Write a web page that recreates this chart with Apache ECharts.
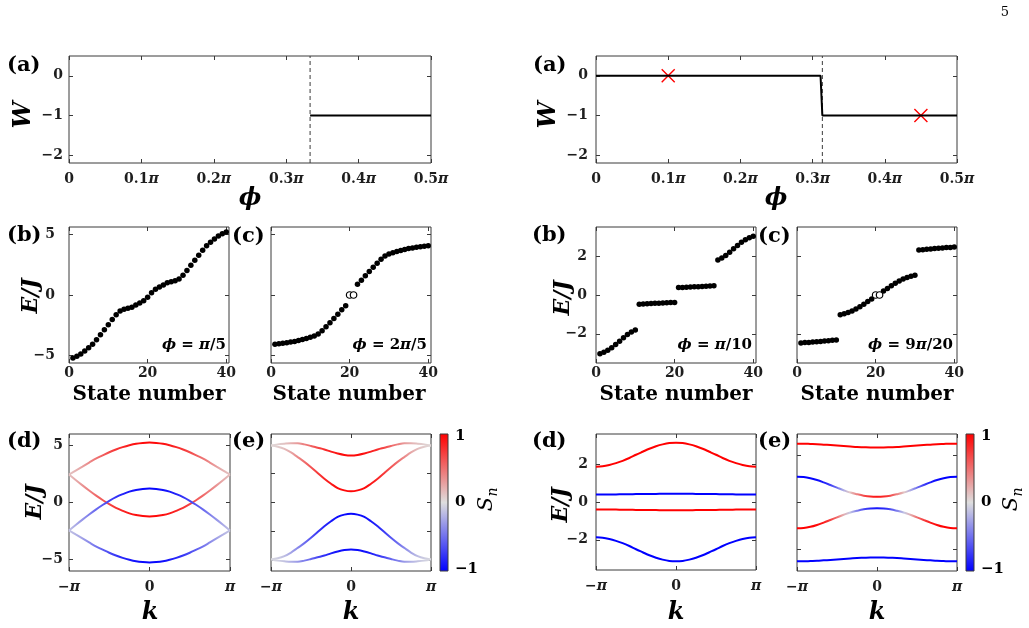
<!DOCTYPE html>
<html>
<head>
<meta charset="utf-8">
<script src="https://cdn.jsdelivr.net/npm/echarts@6/dist/echarts.min.js"></script>
<style>
  html, body { margin: 0; background: #fff; }
  #c { width: 1029px; height: 628px; }
</style>
</head>
<body>
<div id="c"></div>
<script>
// ===== datos =====
const PHI_TICKS = [0, 0.1, 0.2, 0.3, 0.4, 0.5];
const W_TICKS = [-2, -1, 0];
const N_TICKS = [0, 20, 40];
const K_TICKS = [-1, 0, 1];

// (a) número de enrollamiento W(φ), φ en unidades de π
const wLeftPhi = [0.333, 0.5];
const wLeftVal = [-1, -1];
const dashLeft = 0.333;
const wRightPhi = [0, 0.311, 0.3135, 0.5];
const wRightVal = [0, 0, -1, -1];
const dashRight = 0.3135;
const crossPhi = [0.1, 0.45];
const crossW = [0, -1];

// (b),(c) espectros de 40 estados
const STATES = [1,2,3,4,5,6,7,8,9,10,11,12,13,14,15,16,17,18,19,20,21,22,23,24,25,26,27,28,29,30,31,32,33,34,35,36,37,38,39,40];
const OPEN_STATES = [20, 21];
const eB_L = [-5.18,-5.05,-4.85,-4.62,-4.35,-4.05,-3.68,-3.28,-2.87,-2.45,-2.02,-1.62,-1.32,-1.18,-1.10,-1.00,-0.82,-0.66,-0.48,-0.18,
              0.18,0.48,0.66,0.82,1.00,1.10,1.18,1.32,1.62,2.02,2.45,2.87,3.28,3.68,4.05,4.35,4.62,4.85,5.05,5.18];
const eC_L = [-4.05,-4.02,-3.98,-3.93,-3.88,-3.82,-3.75,-3.67,-3.58,-3.48,-3.37,-3.22,-2.95,-2.62,-2.28,-1.93,-1.58,-1.22,-0.88,0.00,
              0.00,0.88,1.22,1.58,1.93,2.28,2.62,2.95,3.22,3.37,3.48,3.58,3.67,3.75,3.82,3.88,3.93,3.98,4.02,4.05];
const eB_R = [-3.02,-2.95,-2.85,-2.72,-2.55,-2.38,-2.20,-2.03,-1.90,-1.80,-0.47,-0.46,-0.45,-0.44,-0.43,-0.42,-0.41,-0.40,-0.39,-0.38,
              0.38,0.39,0.40,0.41,0.42,0.43,0.44,0.45,0.46,0.47,1.80,1.90,2.03,2.20,2.38,2.55,2.72,2.85,2.95,3.02];
const eC_R = [-2.47,-2.45,-2.44,-2.42,-2.41,-2.39,-2.37,-2.35,-2.33,-2.31,-1.02,-0.97,-0.90,-0.82,-0.72,-0.60,-0.47,-0.34,-0.20,0.00,
              0.00,0.20,0.34,0.47,0.60,0.72,0.82,0.90,0.97,1.02,2.31,2.33,2.35,2.37,2.39,2.41,2.42,2.44,2.45,2.47];

// (d),(e) bandas E(k), k en unidades de π, con su polarización S_n
const K = [-1,-0.917,-0.833,-0.75,-0.667,-0.583,-0.5,-0.417,-0.333,-0.25,-0.167,-0.083,0,
           0.083,0.167,0.25,0.333,0.417,0.5,0.583,0.667,0.75,0.833,0.917,1];
const dL1 = [2.45,2.80,3.15,3.50,3.85,4.13,4.40,4.64,4.85,5.02,5.15,5.22,5.25,5.22,5.15,5.02,4.85,4.64,4.40,4.13,3.85,3.50,3.15,2.80,2.45];
const dL2 = [2.45,1.97,1.50,1.05,0.62,0.22,-0.15,-0.47,-0.73,-0.95,-1.10,-1.19,-1.22,-1.19,-1.10,-0.95,-0.73,-0.47,-0.15,0.22,0.62,1.05,1.50,1.97,2.45];
const dL3 = [-2.45,-1.97,-1.50,-1.05,-0.62,-0.22,0.15,0.47,0.73,0.95,1.10,1.19,1.22,1.19,1.10,0.95,0.73,0.47,0.15,-0.22,-0.62,-1.05,-1.50,-1.97,-2.45];
const dL4 = [-2.45,-2.80,-3.15,-3.50,-3.85,-4.13,-4.40,-4.64,-4.85,-5.02,-5.15,-5.22,-5.25,-5.22,-5.15,-5.02,-4.85,-4.64,-4.40,-4.13,-3.85,-3.50,-3.15,-2.80,-2.45];
const sdL1 = [0.10,0.17,0.25,0.35,0.45,0.55,0.65,0.74,0.82,0.88,0.93,0.96,0.97,0.96,0.93,0.88,0.82,0.74,0.65,0.55,0.45,0.35,0.25,0.17,0.10];
const sdL2 = [0.10,0.20,0.30,0.40,0.50,0.59,0.68,0.76,0.83,0.89,0.93,0.96,0.97,0.96,0.93,0.89,0.83,0.76,0.68,0.59,0.50,0.40,0.30,0.20,0.10];
const sdL3 = [-0.10,-0.20,-0.30,-0.40,-0.50,-0.59,-0.68,-0.76,-0.83,-0.89,-0.93,-0.96,-0.97,-0.96,-0.93,-0.89,-0.83,-0.76,-0.68,-0.59,-0.50,-0.40,-0.30,-0.20,-0.10];
const sdL4 = [-0.10,-0.17,-0.25,-0.35,-0.45,-0.55,-0.65,-0.74,-0.82,-0.88,-0.93,-0.96,-0.97,-0.96,-0.93,-0.88,-0.82,-0.74,-0.65,-0.55,-0.45,-0.35,-0.25,-0.17,-0.10];

const eL1 = [3.95,4.03,4.08,4.11,4.11,4.03,3.92,3.80,3.68,3.53,3.40,3.30,3.26,3.30,3.40,3.53,3.68,3.80,3.92,4.03,4.11,4.11,4.08,4.03,3.95];
const eL2 = [3.95,3.87,3.72,3.47,3.15,2.82,2.45,2.05,1.65,1.30,1.00,0.84,0.78,0.84,1.00,1.30,1.65,2.05,2.45,2.82,3.15,3.47,3.72,3.87,3.95];
const eL3 = [-3.95,-3.87,-3.72,-3.47,-3.15,-2.82,-2.45,-2.05,-1.65,-1.30,-1.00,-0.84,-0.78,-0.84,-1.00,-1.30,-1.65,-2.05,-2.45,-2.82,-3.15,-3.47,-3.72,-3.87,-3.95];
const eL4 = [-3.95,-4.03,-4.08,-4.11,-4.11,-4.03,-3.92,-3.80,-3.68,-3.53,-3.40,-3.30,-3.26,-3.30,-3.40,-3.53,-3.68,-3.80,-3.92,-4.03,-4.11,-4.11,-4.08,-4.03,-3.95];
const seL1 = [0.02,0.05,0.10,0.18,0.28,0.40,0.52,0.65,0.78,0.86,0.92,0.95,0.96,0.95,0.92,0.86,0.78,0.65,0.52,0.40,0.28,0.18,0.10,0.05,0.02];
const seL2 = [0.02,0.06,0.12,0.22,0.35,0.48,0.60,0.72,0.82,0.89,0.94,0.96,0.97,0.96,0.94,0.89,0.82,0.72,0.60,0.48,0.35,0.22,0.12,0.06,0.02];
const seL3 = [-0.02,-0.06,-0.12,-0.22,-0.35,-0.48,-0.60,-0.72,-0.82,-0.89,-0.94,-0.96,-0.97,-0.96,-0.94,-0.89,-0.82,-0.72,-0.60,-0.48,-0.35,-0.22,-0.12,-0.06,-0.02];
const seL4 = [-0.02,-0.05,-0.10,-0.18,-0.28,-0.40,-0.52,-0.65,-0.78,-0.86,-0.92,-0.95,-0.96,-0.95,-0.92,-0.86,-0.78,-0.65,-0.52,-0.40,-0.28,-0.18,-0.10,-0.05,-0.02];

const dR1 = [1.87,1.89,1.96,2.06,2.18,2.33,2.50,2.66,2.82,2.95,3.05,3.12,3.14,3.12,3.05,2.95,2.82,2.66,2.50,2.33,2.18,2.06,1.96,1.89,1.87];
const dR2 = [0.40,0.40,0.40,0.40,0.41,0.41,0.42,0.42,0.43,0.43,0.44,0.44,0.44,0.44,0.44,0.43,0.43,0.42,0.42,0.41,0.41,0.40,0.40,0.40,0.40];
const dR3 = [-0.40,-0.40,-0.40,-0.40,-0.41,-0.41,-0.42,-0.42,-0.43,-0.43,-0.44,-0.44,-0.44,-0.44,-0.44,-0.43,-0.43,-0.42,-0.42,-0.41,-0.41,-0.40,-0.40,-0.40,-0.40];
const dR4 = [-1.87,-1.89,-1.96,-2.06,-2.18,-2.33,-2.50,-2.66,-2.82,-2.95,-3.05,-3.12,-3.14,-3.12,-3.05,-2.95,-2.82,-2.66,-2.50,-2.33,-2.18,-2.06,-1.96,-1.89,-1.87];
const S_UP = [1,1,1,1,1,1,1,1,1,1,1,1,1,1,1,1,1,1,1,1,1,1,1,1,1];
const S_DN = [-1,-1,-1,-1,-1,-1,-1,-1,-1,-1,-1,-1,-1,-1,-1,-1,-1,-1,-1,-1,-1,-1,-1,-1,-1];

const eR1 = [2.49,2.49,2.48,2.47,2.45,2.43,2.41,2.39,2.37,2.35,2.34,2.33,2.33,2.33,2.34,2.35,2.37,2.39,2.41,2.43,2.45,2.47,2.48,2.49,2.49];
const eR2 = [1.09,1.08,1.03,0.95,0.85,0.74,0.63,0.52,0.42,0.35,0.29,0.25,0.24,0.25,0.29,0.35,0.42,0.52,0.63,0.74,0.85,0.95,1.03,1.08,1.09];
const eR3 = [-1.09,-1.08,-1.03,-0.95,-0.85,-0.74,-0.63,-0.52,-0.42,-0.35,-0.29,-0.25,-0.24,-0.25,-0.29,-0.35,-0.42,-0.52,-0.63,-0.74,-0.85,-0.95,-1.03,-1.08,-1.09];
const eR4 = [-2.49,-2.49,-2.48,-2.47,-2.45,-2.43,-2.41,-2.39,-2.37,-2.35,-2.34,-2.33,-2.33,-2.33,-2.34,-2.35,-2.37,-2.39,-2.41,-2.43,-2.45,-2.47,-2.48,-2.49,-2.49];
const seR2 = [-1,-1,-1,-0.97,-0.90,-0.75,-0.55,-0.25,0.10,0.40,0.65,0.82,0.90,0.82,0.65,0.40,0.10,-0.25,-0.55,-0.75,-0.90,-0.97,-1,-1,-1];
const seR3 = [1,1,1,0.97,0.90,0.75,0.55,0.25,-0.10,-0.40,-0.65,-0.82,-0.90,-0.82,-0.65,-0.40,-0.10,0.25,0.55,0.75,0.90,0.97,1,1,1];

// ===== estilo =====
const FONT = 'DejaVu Serif';
const INK = '#1e1e1e';
const BOX = '#3a3a3a';
const MID = [222, 222, 222];

function cmap(s) {
  const t = Math.max(-1, Math.min(1, s));
  const end = t >= 0 ? [255, 0, 0] : [0, 0, 255];
  const a = Math.abs(t);
  const c = MID.map((m, i) => Math.round(m + (end[i] - m) * a));
  return `rgb(${c[0]},${c[1]},${c[2]})`;
}
const grad = sv => new echarts.graphic.LinearGradient(0, 0, 1, 0,
  sv.map((s, j) => ({ offset: (K[j] + 1) / 2, color: cmap(s) })));

const minus = v => String(v).replace('-', '\u2212');
const piLabel = v => (v === 0 ? '0' : v.toFixed(1) + '{i|\u03c0}');
const kLabel = v => (v === 0 ? '0' : v < 0 ? '\u2212{i|\u03c0}' : '{i|\u03c0}');
const RICH_PI = { i: { fontFamily: FONT, fontWeight: 'bold', fontStyle: 'italic', fontSize: 14, color: INK } };

// paneles: [left, top, width, height]
const PANELS = [
  { r: [69, 56, 362, 107], x: [0, 0.5], y: [-2.2, 0.5], xt: PHI_TICKS, yt: W_TICKS, xf: piLabel, xm: 9, ym: 6 },
  { r: [596, 56, 361, 107], x: [0, 0.5], y: [-2.2, 0.5], xt: PHI_TICKS, yt: W_TICKS, xf: piLabel, xm: 9, ym: 8 },
  { r: [69, 227, 160, 136], x: [0, 40.7], y: [-5.6, 5.6], xt: N_TICKS, yt: [-5, 0, 5], xm: 3, ym: 14 },
  { r: [271, 227, 160, 136], x: [0, 40.7], y: [-5.6, 5.6], xt: N_TICKS, yt: [-5, 0, 5], xm: 3, noY: true },
  { r: [596, 227, 160, 136], x: [0, 40.7], y: [-3.5, 3.5], xt: N_TICKS, yt: [-2, 0, 2], xm: 3, ym: 9 },
  { r: [797, 227, 160, 136], x: [0, 40.7], y: [-3.5, 3.5], xt: N_TICKS, yt: [-2, 0, 2], xm: 3, noY: true },
  { r: [69, 434, 161, 137], x: [-1, 1], y: [-6, 6], xt: K_TICKS, yt: [-5, 0, 5], xf: kLabel, xm: 9, ym: 6 },
  { r: [271, 434, 160, 137], x: [-1, 1], y: [-4.75, 4.75], xt: K_TICKS, yt: [-4, -2, 0, 2, 4], xf: kLabel, xm: 9, noY: true },
  { r: [596, 434, 160, 136], x: [-1, 1], y: [-3.6, 3.6], xt: K_TICKS, yt: [-2, 0, 2], xf: kLabel, xm: 9, ym: 8 },
  { r: [797, 434, 160, 137], x: [-1, 1], y: [-2.9, 2.9], xt: K_TICKS, yt: [-2, 0, 2], xf: kLabel, xm: 9, noY: true },
];

const grid = [], xAxis = [], yAxis = [];
const tick = vals => ({ show: true, inside: true, length: 4, customValues: vals, lineStyle: { color: BOX, width: 1 } });
const lab = (show, vals, fmt, margin) => ({
  show, customValues: vals, formatter: fmt || minus, margin, rich: RICH_PI,
  fontFamily: FONT, fontWeight: 'bold', fontSize: 14, color: INK,
});
PANELS.forEach((p, i) => {
  grid.push({ left: p.r[0], top: p.r[1], width: p.r[2], height: p.r[3], show: true,
    borderColor: BOX, borderWidth: 1, backgroundColor: 'transparent' });
  const base = { gridIndex: i, type: 'value', axisLine: { show: false, onZero: false }, splitLine: { show: false } };
  xAxis.push({ ...base, min: p.x[0], max: p.x[1], position: 'bottom', axisTick: tick(p.xt), axisLabel: lab(true, p.xt, p.xf, p.xm) });
  xAxis.push({ ...base, min: p.x[0], max: p.x[1], position: 'top', axisTick: tick(p.xt), axisLabel: { show: false } });
  yAxis.push({ ...base, min: p.y[0], max: p.y[1], position: 'left', axisTick: tick(p.yt), axisLabel: lab(!p.noY, p.yt, null, p.ym) });
  yAxis.push({ ...base, min: p.y[0], max: p.y[1], position: 'right', axisTick: tick(p.yt), axisLabel: { show: false } });
});

const series = [];
const on = i => ({ xAxisIndex: 2 * i, yAxisIndex: 2 * i, silent: true, animation: false });
const pairs = (xs, ys) => xs.map((x, j) => [x, ys[j]]);

function wPanel(i, phi, w, dash) {
  series.push({ ...on(i), type: 'line', data: [[dash, -2.2], [dash, 0.5]], showSymbol: false,
    lineStyle: { color: BOX, width: 1, type: [4, 3] } });
  series.push({ ...on(i), type: 'line', data: pairs(phi, w), showSymbol: false,
    lineStyle: { color: '#000', width: 2 } });
}
wPanel(0, wLeftPhi, wLeftVal, dashLeft);
wPanel(1, wRightPhi, wRightVal, dashRight);
series.push({ ...on(1), type: 'scatter', data: pairs(crossPhi, crossW), symbol: 'path://M0 0L10 10M10 0L0 10',
  symbolSize: 13, itemStyle: { color: 'rgba(0,0,0,0)', borderColor: '#ff0000', borderWidth: 1.4, opacity: 1 } });

function spectrum(i, e, withOpen) {
  const all = STATES.map((n, j) => [n, e[j]]);
  const filled = all.filter(d => !(withOpen && OPEN_STATES.includes(d[0])));
  series.push({ ...on(i), type: 'scatter', data: filled, symbolSize: 5.5, itemStyle: { color: '#000', opacity: 1 } });
  if (withOpen) {
    series.push({ ...on(i), type: 'scatter', data: all.filter(d => OPEN_STATES.includes(d[0])), symbolSize: 6.5,
      itemStyle: { color: '#fff', borderColor: '#000', borderWidth: 1.2, opacity: 1 } });
  }
}
spectrum(2, eB_L, false);
spectrum(3, eC_L, true);
spectrum(4, eB_R, false);
spectrum(5, eC_R, true);

function band(i, e, s) {
  series.push({ ...on(i), type: 'line', data: pairs(K, e), smooth: 0.35, showSymbol: false,
    lineStyle: { width: 2, color: grad(s) } });
}
band(6, dL1, sdL1); band(6, dL2, sdL2); band(6, dL3, sdL3); band(6, dL4, sdL4);
band(7, eL1, seL1); band(7, eL2, seL2); band(7, eL3, seL3); band(7, eL4, seL4);
band(8, dR1, S_UP); band(8, dR2, S_DN); band(8, dR3, S_UP); band(8, dR4, S_DN);
band(9, eR1, S_UP); band(9, eR2, seR2); band(9, eR3, seR3); band(9, eR4, S_DN);

// ===== textos =====
const graphic = [];
function txt(x, y, text, o = {}) {
  graphic.push({ type: 'text', x, y, rotation: o.rot || 0, silent: true,
    style: { text, fill: o.fill || '#000', fontFamily: FONT, fontSize: o.size || 22,
      fontWeight: o.w || 'bold', fontStyle: o.it ? 'italic' : 'normal',
      align: o.align || 'center', verticalAlign: 'middle', rich: o.rich } });
}
txt(1005, 13, '5', { size: 13, w: 'normal' });
[[7, 66, '(a)'], [533, 66, '(a)'], [7, 236, '(b)'], [532, 236, '(b)'], [232, 237, '(c)'], [758, 237, '(c)'],
 [7, 442, '(d)'], [532, 442, '(d)'], [232, 442, '(e)'], [758, 442, '(e)']]
  .forEach(([x, y, t]) => txt(x, y, t, { align: 'left', size: 21 }));
const R90 = Math.PI / 2;
txt(24, 115, 'W', { it: true, size: 24, rot: R90 });
txt(549, 115, 'W', { it: true, size: 24, rot: R90 });
[[31, 296], [563, 298], [35, 502], [561, 505]].forEach(([x, y]) => txt(x, y, 'E/J', { it: true, size: 22, rot: R90 }));
txt(250, 199, '\u03d5', { it: true, size: 24 });
txt(776, 199, '\u03d5', { it: true, size: 24 });
[149, 349, 676, 877].forEach(x => txt(x, 395, 'State number', { size: 20 }));
[150, 351, 676, 877].forEach(x => txt(x, 613, 'k', { it: true, size: 24 }));
const richI = { i: { fontStyle: 'italic', fontWeight: 'bold', fontFamily: FONT, fontSize: 15 } };
[[226, '{i|\u03d5} = {i|\u03c0}/5'], [427, '{i|\u03d5} = 2{i|\u03c0}/5'],
 [752, '{i|\u03d5} = {i|\u03c0}/10'], [953, '{i|\u03d5} = 9{i|\u03c0}/20']]
  .forEach(([x, t]) => txt(x, 345, t, { align: 'right', size: 15, rich: richI }));

// barras de color S_n
function colorbar(x, lx, sx) {
  const stops = [];
  for (let j = 0; j <= 20; j++) stops.push({ offset: j / 20, color: cmap(1 - j / 10) });
  graphic.push({ type: 'rect', silent: true, shape: { x, y: 434, width: 8, height: 137 },
    style: { fill: new echarts.graphic.LinearGradient(0, 0, 0, 1, stops), stroke: BOX, lineWidth: 1 } });
  txt(lx, 436, '1', { align: 'left', size: 15 });
  txt(lx, 502, '0', { align: 'left', size: 15 });
  txt(lx, 569, '\u22121', { align: 'left', size: 15 });
  graphic.push({ type: 'group', x: sx, y: 500, rotation: R90, silent: true, children: [
    { type: 'text', x: -4, y: 0, style: { text: 'S', fontFamily: FONT, fontStyle: 'italic', fontSize: 21,
      fill: '#000', align: 'center', verticalAlign: 'middle' } },
    { type: 'text', x: 8, y: 6, style: { text: 'n', fontFamily: FONT, fontStyle: 'italic', fontSize: 14,
      fill: '#000', align: 'center', verticalAlign: 'middle' } },
  ] });
}
colorbar(440, 455, 487);
colorbar(966, 981, 1012);

const chart = echarts.init(document.getElementById('c'), null, { renderer: 'canvas' });
chart.setOption({ animation: false, grid, xAxis, yAxis, series, graphic });
</script>
</body>
</html>
